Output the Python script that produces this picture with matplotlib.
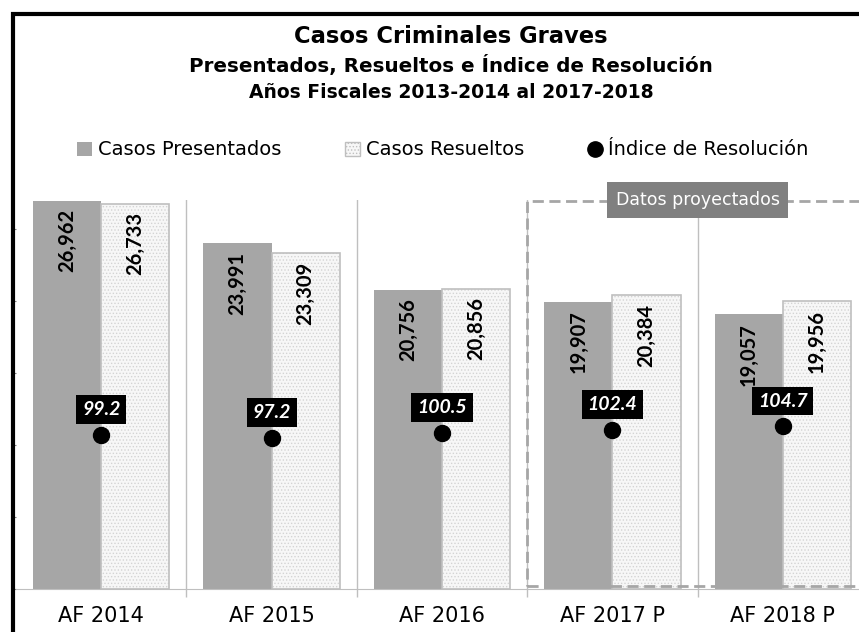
import matplotlib
matplotlib.use('Agg')
import matplotlib.pyplot as plt
import numpy as np
from matplotlib.patches import Patch, Rectangle
from matplotlib.lines import Line2D

categorias = ['AF 2014', 'AF 2015', 'AF 2016', 'AF 2017 P', 'AF 2018 P']
presentados = [26962, 23991, 20756, 19907, 19057]
resueltos = [26733, 23309, 20856, 20384, 19956]
indice = [99.2, 97.2, 100.5, 102.4, 104.7]

plt.rcParams['font.family'] = ['DejaVu Sans']
plt.rcParams['hatch.linewidth'] = 0.6
num_font = ['Lato', 'DejaVu Sans']

W, H = 859, 632
fig = plt.figure(figsize=(W / 100, H / 100), dpi=100)
ax = fig.add_axes([16 / W, 43 / H, 852 / W, 389 / H])

x = np.arange(len(categorias))
bw = 0.4
gris = '#a6a6a6'

ax.bar(x - bw / 2, presentados, bw, color=gris, zorder=2)
ax.bar(x + bw / 2, resueltos, bw, color='#f7f7f7', edgecolor='#d4d4d4',
       hatch='.....', linewidth=0, zorder=2)
ax.bar(x + bw / 2, resueltos, bw, fill=False, edgecolor='#bfbfbf',
       linewidth=1.2, zorder=3)

for xi, v in zip(x - bw / 2, presentados):
    ax.annotate(f'{v:,}', (xi, v), xytext=(0, -6), textcoords='offset points',
                rotation=90, ha='center', va='top', fontsize=14.5,
                fontweight='bold', family=num_font, zorder=5)
for xi, v in zip(x + bw / 2, resueltos):
    ax.annotate(f'{v:,}', (xi, v), xytext=(0, -6), textcoords='offset points',
                rotation=90, ha='center', va='top', fontsize=14.5,
                fontweight='bold', family=num_font, zorder=5)

ax.set_xlim(-0.5, 4.5)
ax.set_ylim(0, 27000)
ax.set_xticks(x)
ax.set_xticklabels(categorias, fontsize=15)
ax.tick_params(axis='x', length=0, pad=12)
ax.set_xticks(np.arange(0.5, 4, 1), minor=True)
ax.tick_params(axis='x', which='minor', length=6, color='#bfbfbf', width=1)
ax.set_yticks(np.arange(0, 27000, 5000))
ax.tick_params(axis='y', length=3, color='#808080', labelleft=False)
for s in ['top', 'right', 'left']:
    ax.spines[s].set_visible(False)
ax.spines['bottom'].set_color('#bfbfbf')
for xs in np.arange(0.5, 4, 1):
    ax.axvline(xs, color='#bfbfbf', lw=1, zorder=1)

# caja de datos proyectados
caja = Rectangle((2.5, 200), 2.3, 26700, fill=False, edgecolor=gris,
                 linewidth=2, linestyle=(0, (4, 2)), clip_on=False, zorder=4)
ax.add_patch(caja)
ax.text(3.5, 27000, 'Datos proyectados', ha='center', va='center',
        fontsize=12.5, color='white', zorder=6,
        bbox=dict(boxstyle='square,pad=0.5', fc='#808080', ec='none'))

ax2 = ax.twinx()
ax2.set_ylim(0, 250)
ax2.axis('off')
ax2.plot(x, indice, 'o', color='black', markersize=11.5, zorder=5)
for xi, v in zip(x, indice):
    ax2.annotate(f'{v:.1f}', (xi, v), xytext=(0, 18), textcoords='offset points',
                 ha='center', va='center', fontsize=14, fontweight='bold',
                 fontstyle='italic', color='white', family=num_font,
                 bbox=dict(boxstyle='square,pad=0.3', fc='black', ec='none'))

# titulos
fig.text(451 / W, 1 - 43 / H, 'Casos Criminales Graves', ha='center',
         va='baseline', fontsize=16.3, fontweight='bold')
fig.text(451 / W, 1 - 72 / H, 'Presentados, Resueltos e Índice de Resolución',
         ha='center', va='baseline', fontsize=14.3, fontweight='bold')
fig.text(451 / W, 1 - 98 / H, 'Años Fiscales 2013-2014 al 2017-2018',
         ha='center', va='baseline', fontsize=13.5, fontweight='bold')

handles = [Patch(fc=gris, ec='none'),
           Patch(fc='#f7f7f7', ec='#bfbfbf', hatch='.....'),
           Line2D([], [], marker='o', color='black', ls='none', markersize=11)]
fig.legend(handles, ['Casos Presentados', 'Casos Resueltos', 'Índice de Resolución'],
           loc='center', bbox_to_anchor=(443 / W, 1 - 150 / H), ncol=3,
           frameon=False, fontsize=14, handlelength=0.75, handleheight=0.75,
           handletextpad=0.3, columnspacing=3.3)

# marco
fig.patches.append(Rectangle((12.5 / W, -0.1), 1, 1 - 13.5 / H + 0.1,
                             transform=fig.transFigure, fill=False,
                             edgecolor='black', linewidth=3, zorder=10))

fig.savefig('out.png', dpi=100)
